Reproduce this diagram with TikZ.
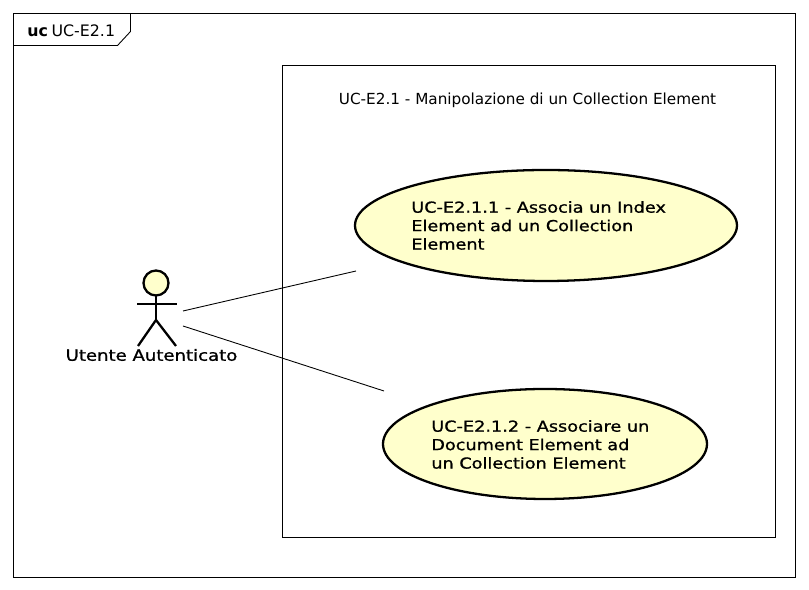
\documentclass[tikz,border=0pt]{standalone}
\usepackage{fontspec}
\usepackage{xcolor}
\usetikzlibrary{shapes.geometric}
\setmainfont{DejaVu Sans}
\newfontfamily\usecasefont[FakeBold=1,FakeStretch=1.17]{DejaVu Sans}
\definecolor{ucyellow}{rgb}{1,1,0.80}
\tikzset{
  thinline/.style={line width=0.5pt},
  thickline/.style={line width=1.3pt},
  usecase/.style={ellipse,draw,thickline,fill=ucyellow,inner sep=0pt},
  uctext/.style={font=\usecasefont\fontsize{8.6}{10.5}\selectfont,align=left,anchor=west,inner sep=0pt},
  titletext/.style={font=\fontsize{8.68}{10.5}\selectfont,inner sep=0pt},
}
\begin{document}
\begin{tikzpicture}[x=0.02cm,y=-0.02cm]
\useasboundingbox (0,0) rectangle (809,590);
\fill[white] (0,0) rectangle (809,590);
%frame
\draw[thinline] (13.5,13.5) rectangle (795.5,577.5);
\draw[thinline] (13.5,45.5) -- (117.5,45.5) -- (130.5,31.5) -- (130.5,13.5);
\node[titletext,anchor=west,font=\fontsize{9}{10.5}\selectfont] (frametitle) at (27,31) {\textbf{uc}\kern-0.8pt\ UC-E2.1};
%system box
\draw[thinline] (282.5,65.5) rectangle (775.5,537.5);
\node[titletext] (boxtitle) at (527.5,100.5) {UC-E2.1 - Manipolazione di un Collection Element};
%actor
\draw[thickline,fill=ucyellow] (156,283) circle (12.5);
\coordinate (neck) at (156,295.5);
\coordinate (hip) at (156,320);
\draw[thickline] (neck) -- (hip);
\draw[thickline] (137,304) -- (177,304);
\draw[thickline] (138,346) -- (hip) -- (176,346);
\node[uctext,anchor=center,font=\usecasefont\fontsize{8.8}{10.5}\selectfont] (actorname) at (151.5,355) {Utente Autenticato};
\coordinate (actorup) at (183,311);
\coordinate (actordown) at (183,326);
%use cases
\node[usecase,minimum width=382*0.02cm,minimum height=111*0.02cm] (casea) at (546,225.5) {};
\node[uctext] (casetexta) at (411,225.5) {UC-E2.1.1 - Associa un Index\\Element ad un Collection\\Element};
\node[usecase,minimum width=324*0.02cm,minimum height=110*0.02cm] (caseb) at (545,444) {};
\node[uctext] (casetextb) at (431,444.5) {UC-E2.1.2 - Associare un\\Document Element ad\\un Collection Element};
\coordinate (casealeft) at (356,271);
\coordinate (caseblleft) at (384,391);
\draw[thinline] (actorup) -- (casealeft);
\draw[thinline] (actordown) -- (caseblleft);
\end{tikzpicture}
\end{document}
